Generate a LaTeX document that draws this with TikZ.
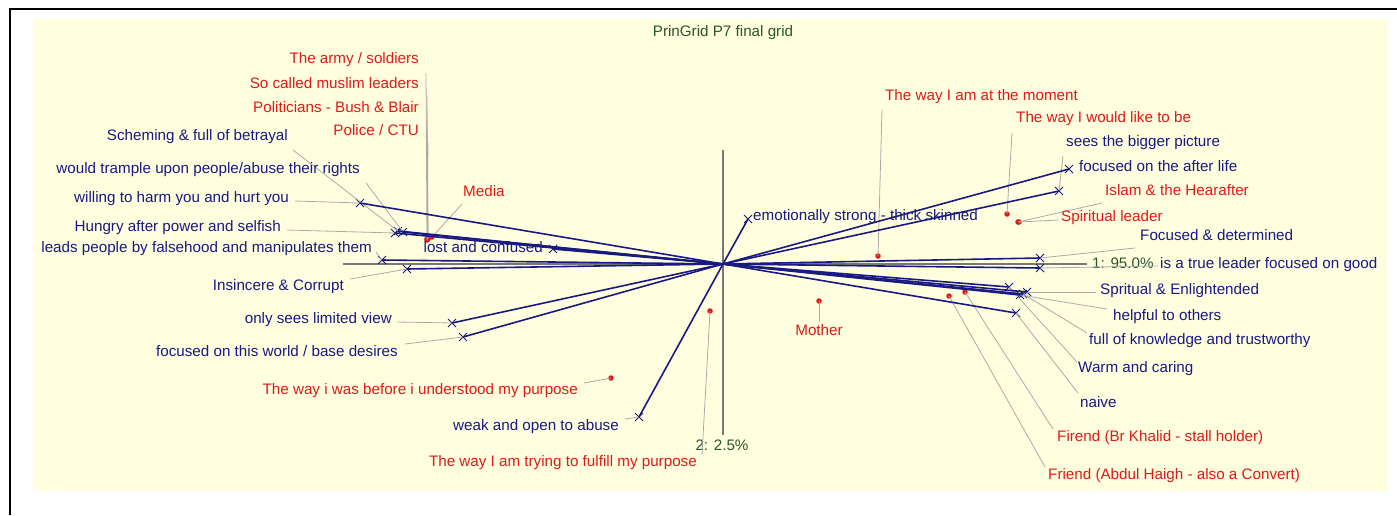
\documentclass[tikz,border=0pt]{standalone}
\usepackage{fontspec}
\setmainfont{Liberation Sans}
\usetikzlibrary{shapes.misc}
\definecolor{navyc}{RGB}{25,25,130}
\definecolor{redc}{RGB}{225,25,25}
\definecolor{greenc}{RGB}{40,85,45}
\definecolor{bgc}{RGB}{255,255,224}
\definecolor{leadc}{RGB}{170,170,170}
\definecolor{axisc}{RGB}{120,120,120}
\newcommand{\lblfont}{\fontsize{15.2}{17}\selectfont}
\begin{document}
\begin{tikzpicture}[x=1pt,y=-1pt,
  clab/.style={text=navyc,font=\lblfont,inner sep=0pt},
  elab/.style={text=redc,font=\lblfont,inner sep=0pt},
  glab/.style={text=greenc,font=\lblfont,inner sep=0pt},
  xmk/.style={draw=navyc,cross out,minimum size=7pt,inner sep=0pt,line width=1pt},
  edot/.style={circle,fill=redc,minimum size=5.5pt,inner sep=0pt},
  cline/.style={draw=navyc,line width=1.6pt},
  lead/.style={draw=leadc,line width=0.8pt},
  axisl/.style={draw=axisc,line width=1.1pt}]
\useasboundingbox (0,0) rectangle (1397,515);
\fill[white] (0,0) rectangle (1397,515);
\fill[bgc] (34,19) rectangle (1387,491);
\draw[black,line width=2pt] (10,515) -- (10,9) -- (1397,9);
% title
\node[glab] (title) at (723,33) {PrinGrid P7 final grid};
% axes
\coordinate (O) at (723,264);
\coordinate (aTop) at (723,150);
\coordinate (aBot) at (723,435);
\coordinate (aLeft) at (343,264);
\coordinate (aRight) at (1087,264);
\draw[axisl] (aTop) -- (aBot);
\draw[axisl] (aLeft) -- (aRight);
\node[glab] (ax2) at (722,445) {2: 2.5\%};
\node[glab,anchor=west] (ax1) at (1092,263) {1: 95.0\%};
% construct markers
\node[xmk] (cWeak) at (639,417) {};
\node[xmk] (cStrong) at (748,219) {};
\node[xmk] (cLimited) at (452,323) {};
\node[xmk] (cBigger) at (1059,191) {};
\node[xmk] (cWorld) at (463,337) {};
\node[xmk] (cAfter) at (1069,169) {};
\node[xmk] (cLeads) at (382,260) {};
\node[xmk] (cTrue) at (1040,268) {};
\node[xmk] (cInsincere) at (407,269) {};
\node[xmk] (cDetermined) at (1040,258) {};
\node[xmk] (cHarm) at (360,203) {};
\node[xmk] (cNaive) at (1016,313) {};
\node[xmk] (cScheming) at (398,231) {};
\node[xmk] (cWarm) at (1009,287) {};
\node[xmk] (cTrample) at (403,232) {};
\node[xmk] (cHelpful) at (1020,295) {};
\node[xmk] (cHungry) at (395,233) {};
\node[xmk] (cKnowledge) at (1023,294) {};
\node[xmk] (cLost) at (553,249) {};
\node[xmk] (cSpiritual) at (1027,292) {};
% element dots
\node[edot] (dArmy) at (427,240) {};
\node[edot] (dMuslim) at (428,238) {};
\node[edot] (dPoliticians) at (428,239) {};
\node[edot] (dPolice) at (427,239) {};
\node[edot] (dMedia) at (432,237) {};
\node[edot] (dMoment) at (878,256) {};
\node[edot] (dLike) at (1007,214) {};
\node[edot] (dIslam) at (1018,222) {};
\node[edot] (dSpirLeader) at (1019,222) {};
\node[edot] (dMother) at (819,301) {};
\node[edot] (dBefore) at (611,378) {};
\node[edot] (dTrying) at (710,311) {};
\node[edot] (dKhalid) at (965,292) {};
\node[edot] (dAbdul) at (949,296) {};
% leader start points
\coordinate (lScheming) at (293,150);
\coordinate (lTrample) at (366,183);
\coordinate (lHarm) at (295,201);
\coordinate (lHungry) at (287,230);
\coordinate (lLeads) at (376,252);
\coordinate (lInsincere) at (350,279);
\coordinate (lLimited) at (397,322);
\coordinate (lWorld) at (405,344);
\coordinate (lWeak) at (625,419);
\coordinate (lBigger) at (1063,156);
\coordinate (lDetermined) at (1135,248);
\coordinate (lTrue) at (1158,266);
\coordinate (lSpiritual) at (1096,292);
\coordinate (lHelpful) at (1107,309);
\coordinate (lKnowledge) at (1087,333);
\coordinate (lWarm) at (1077,362);
\coordinate (lNaive) at (1078,393);
\coordinate (lArmy) at (426,73);
\coordinate (lMuslim) at (427,96);
\coordinate (lPoliticians) at (427,119);
\coordinate (lPolice) at (428,143);
\coordinate (lMedia) at (462,204);
\coordinate (lMoment) at (882,110);
\coordinate (lLike) at (1012,133);
\coordinate (lIslam) at (1102,203);
\coordinate (lSpirLeader) at (1058,220);
\coordinate (lMother) at (819,322);
\coordinate (lBefore) at (584,383);
\coordinate (lTrying) at (702,455);
\coordinate (lKhalid) at (1053,429);
\coordinate (lAbdul) at (1045,467);
% leaders
\foreach \n in {Scheming,Trample,Harm,Hungry,Leads,Insincere,Limited,World,Weak,Bigger,Determined,True,Spiritual,Helpful,Knowledge,Warm,Naive}
  \draw[lead] (l\n) -- (c\n.center);
\foreach \n in {Army,Muslim,Politicians,Police,Media,Moment,Like,Islam,SpirLeader,Mother,Before,Trying,Khalid,Abdul}
  \draw[lead] (l\n) -- (d\n.center);
% construct lines
\draw[cline] (cWeak.center) -- (O) -- (cStrong.center);
\draw[cline] (cLimited.center) -- (O) -- (cBigger.center);
\draw[cline] (cWorld.center) -- (O) -- (cAfter.center);
\draw[cline] (cLeads.center) -- (O) -- (cTrue.center);
\draw[cline] (cInsincere.center) -- (O) -- (cDetermined.center);
\draw[cline] (cHarm.center) -- (O) -- (cNaive.center);
\draw[cline] (cScheming.center) -- (O) -- (cWarm.center);
\draw[cline] (cTrample.center) -- (O) -- (cHelpful.center);
\draw[cline] (cHungry.center) -- (O) -- (cKnowledge.center);
\draw[cline] (cLost.center) -- (O) -- (cSpiritual.center);
% construct labels
\node[clab,anchor=east] (tScheming) at (288,137) {Scheming \& full of betrayal};
\node[clab,anchor=east] (tTrample) at (360,170) {would trample upon people/abuse their rights};
\node[clab,anchor=east] (tHarm) at (289,199) {willing to harm you and hurt you};
\node[clab,anchor=east] (tHungry) at (281,228) {Hungry after power and selfish};
\node[clab,anchor=east] (tLeads) at (372,249) {leads people by falsehood and manipulates them};
\node[clab,anchor=east] (tInsincere) at (344,287) {Insincere \& Corrupt};
\node[clab,anchor=east] (tLimited) at (392,320) {only sees limited view};
\node[clab,anchor=east] (tWorld) at (398,351) {focused on this world / base desires};
\node[clab,anchor=east] (tWeak) at (619,427) {weak and open to abuse};
\node[clab,anchor=east] (tLost) at (543,247) {lost and confused};
\node[clab,anchor=west] (tStrong) at (753,217) {emotionally strong - thick skinned};
\node[clab,anchor=west] (tBigger) at (1066,143) {sees the bigger picture};
\node[clab,anchor=west] (tAfter) at (1079,166) {focused on the after life};
\node[clab,anchor=west] (tDetermined) at (1140,235) {Focused \& determined};
\node[clab,anchor=west] (tTrue) at (1160,265) {is a true leader focused on good};
\node[clab,anchor=west] (tSpiritual) at (1100,291) {Spritual \& Enlightended};
\node[clab,anchor=west] (tHelpful) at (1113,317) {helpful to others};
\node[clab,anchor=west] (tKnowledge) at (1089,341) {full of knowledge and trustworthy};
\node[clab,anchor=west] (tWarm) at (1078,369) {Warm and caring};
\node[clab,anchor=west] (tNaive) at (1080,402) {naive};
% element labels
\node[elab,anchor=east] (tArmy) at (419,60) {The army / soldiers};
\node[elab,anchor=east] (tMuslim) at (419,83) {So called muslim leaders};
\node[elab,anchor=east] (tPoliticians) at (419,107) {Politicians - Bush \& Blair};
\node[elab,anchor=east] (tPolice) at (419,130) {Police / CTU};
\node[elab,anchor=west] (tMedia) at (463,191) {Media};
\node[elab,anchor=west] (tMoment) at (885,97) {The way I am at the moment};
\node[elab,anchor=west] (tLike) at (1016,119) {The way I would like to be};
\node[elab,anchor=west] (tIslam) at (1105,190) {Islam \& the Hearafter};
\node[elab,anchor=west] (tSpirLeader) at (1061,218) {Spiritual leader};
\node[elab] (tMother) at (819,330) {Mother};
\node[elab,anchor=east] (tBefore) at (578,391) {The way i was before i understood my purpose};
\node[elab,anchor=east] (tTrying) at (697,463) {The way I am trying to fulfill my purpose};
\node[elab,anchor=west] (tKhalid) at (1057,438) {Firend (Br Khalid - stall holder)};
\node[elab,anchor=west] (tAbdul) at (1048,476) {Friend (Abdul Haigh - also a Convert)};
\end{tikzpicture}
\end{document}
